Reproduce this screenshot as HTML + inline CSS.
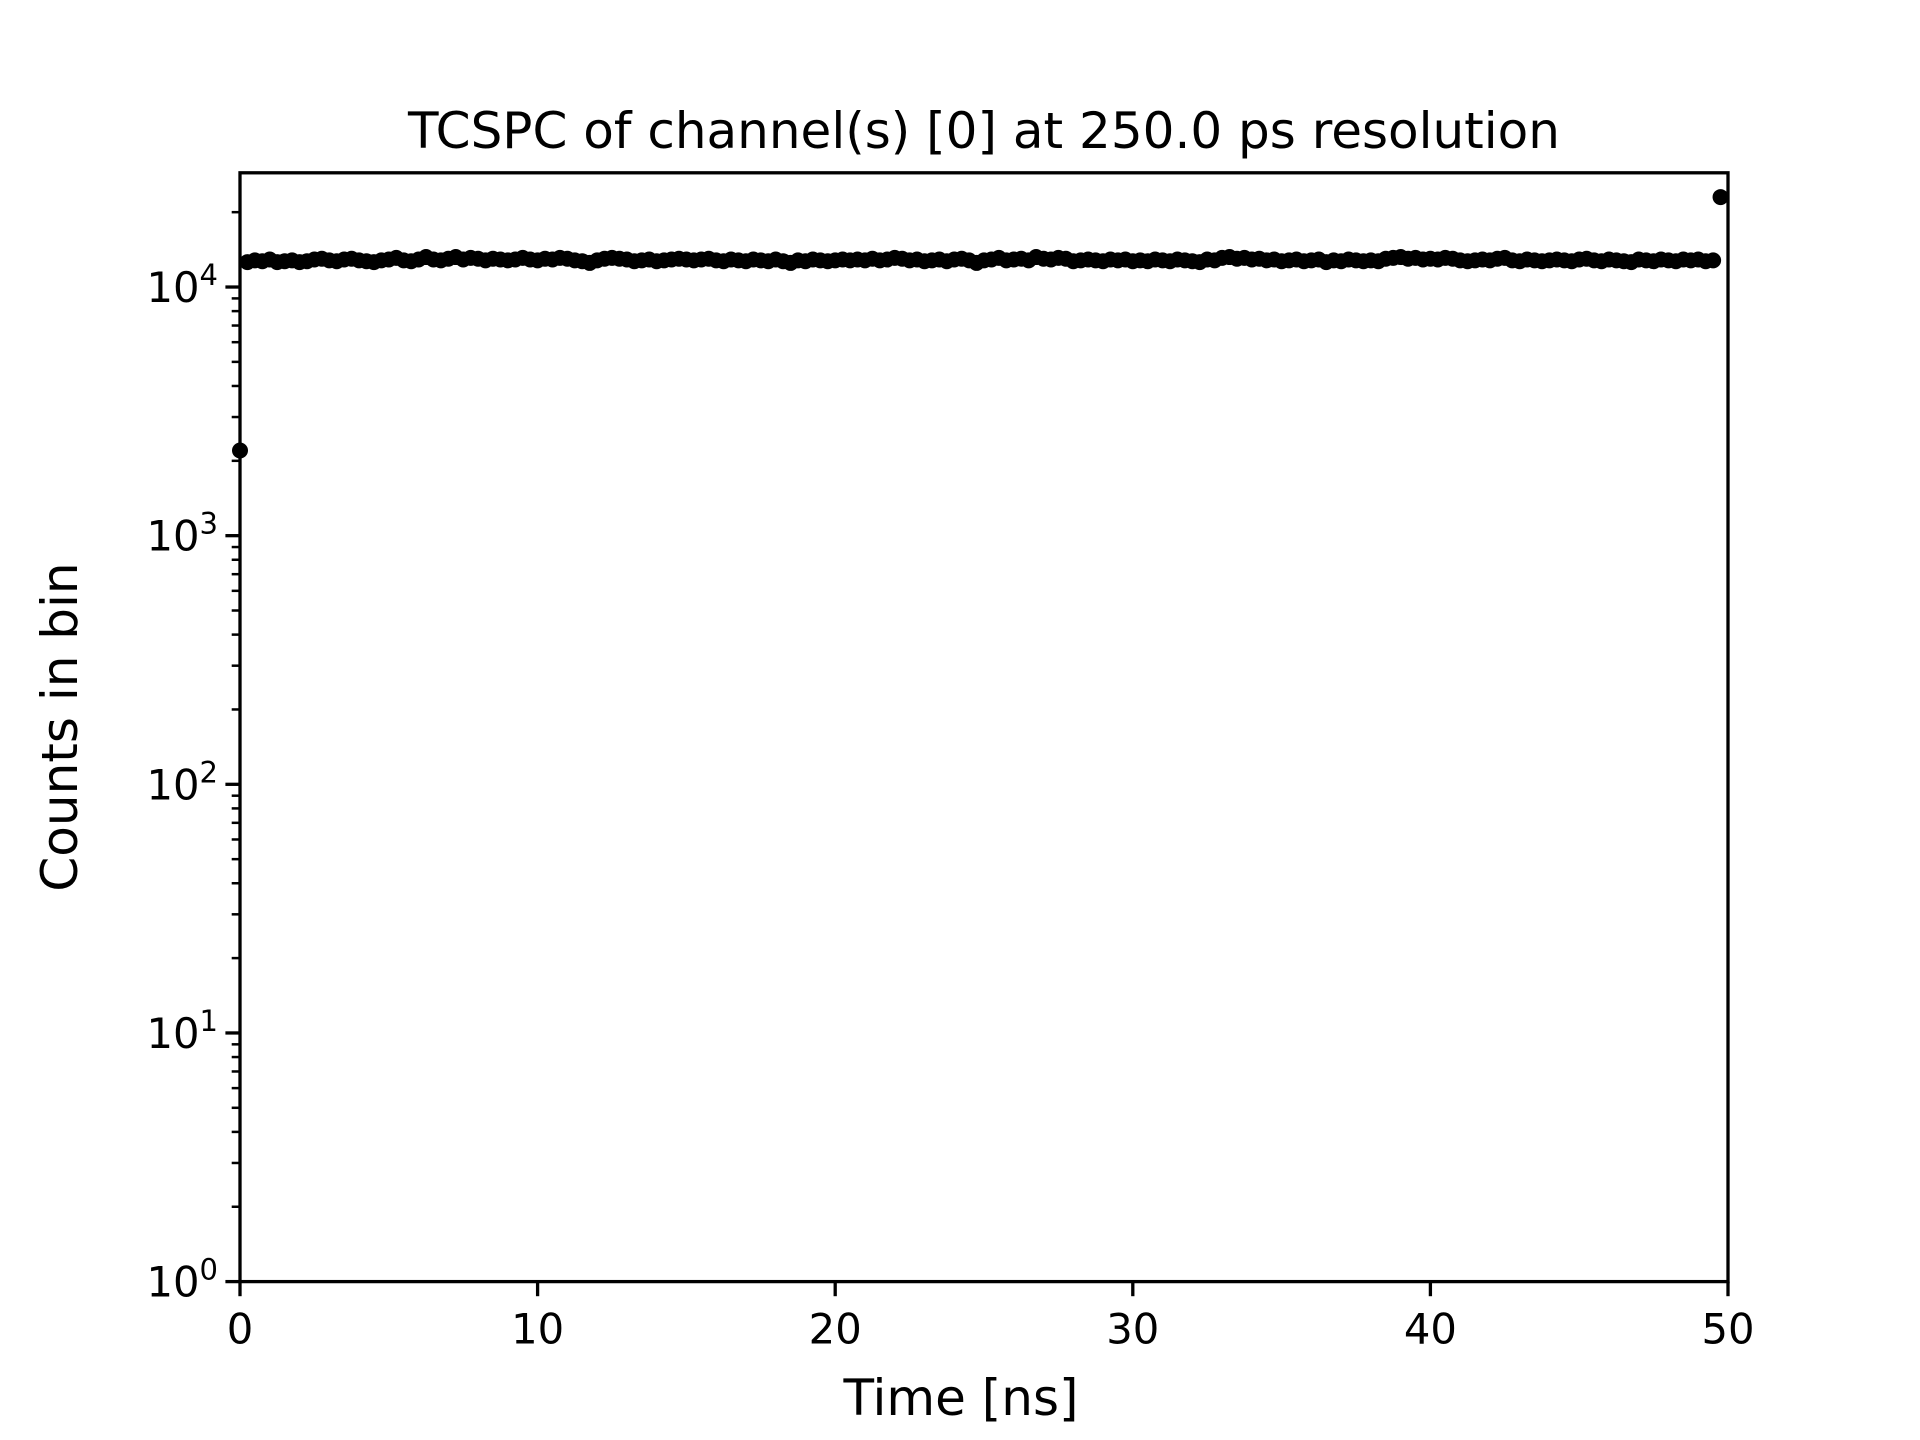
<!DOCTYPE html>
<html><head><meta charset="utf-8"><style>
body{margin:0;background:#fff}
svg{display:block;font-family:"DejaVu Sans","Liberation Sans",sans-serif}
</style></head><body>
<svg id="chart" width="1920" height="1440" viewBox="0 0 1920 1440">
<rect width="1920" height="1440" fill="#fff"/>
<g id="marks"></g>
<g id="axes"></g>
<text x="984" y="148" font-size="50" text-anchor="middle">TCSPC of channel(s) [0] at 250.0 ps resolution</text>
<text x="961" y="1415" font-size="50" text-anchor="middle">Time [ns]</text>
<text x="0" y="0" font-size="50" text-anchor="middle" transform="translate(77,727) rotate(-90)">Counts in bin</text>
</svg>
<script>
const xTicks=[0,10,20,30,40,50];
const yDecades=[0,1,2,3,4];
const firstValue=2200;
const lastValue=23000;
const midValues=[
12600,12800,12700,12900,12600,12700,12800,12600,12700,12900,13000,12800,12700,12900,13000,12800,12700,12600,12800,12900,
13100,12800,12700,12900,13200,12900,12800,13000,13200,12900,13100,13000,12800,13000,12900,12800,12900,13100,12900,12800,
13000,12900,13100,13000,12800,12700,12500,12800,13000,13100,13000,12900,12700,12800,12900,12700,12800,12900,13000,12900,
12800,12900,13000,12800,12700,12900,12800,12700,12900,12800,12700,12900,12700,12500,12800,12700,12900,12800,12700,12800,
12900,12800,12900,12800,13000,12800,12900,13100,13000,12800,12900,12700,12800,12900,12700,12900,13000,12800,12500,12800,
12900,13100,12800,12900,13000,12800,13200,13000,12900,13100,13000,12700,12800,12900,12800,12700,12900,12800,12900,12700,
12800,12700,12900,12800,12700,12900,12800,12700,12600,12900,12800,13100,13200,13000,13100,12900,13000,12800,12900,12700,
12800,12900,12700,12800,12900,12600,12800,12700,12900,12800,12700,12800,12700,13000,13100,13200,13000,13100,12900,13000,
12900,13100,13000,12800,12700,12800,12900,12800,13000,13100,12800,12700,12900,12800,12700,12800,12900,12800,12700,12900,
13000,12800,12700,12900,12800,12700,12600,12900,12800,12700,12900,12800,12700,12900,12800,12900,12700,12800];
const values=[firstValue].concat(midValues,[lastValue]);
const binWidth=0.25;

const L=240,R=1728,T=172.8,B=1281.6,yMax=28800;
const xs=v=>L+(v-0)/(50-0)*(R-L);
const ys=v=>B-(Math.log10(v)-0)/(Math.log10(yMax)-0)*(B-T);
const NS="http://www.w3.org/2000/svg";
function mk(tag,attrs,parent){const e=document.createElementNS(NS,tag);for(const k in attrs)e.setAttribute(k,attrs[k]);parent.appendChild(e);return e;}
const marks=document.getElementById('marks'),axes=document.getElementById('axes');
values.forEach((v,i)=>{
 const c=mk('circle',{cx:xs(i*binWidth),cy:ys(v),r:8,fill:'#000'},marks);
 
 
});
const fr=mk('rect',{x:L,y:T,width:R-L,height:B-T,fill:'none',stroke:'#000','stroke-width':3.3},axes);


xTicks.forEach(t=>{
 const x=xs(t);
 const l=mk('line',{x1:x,x2:x,y1:B,y2:B+14.6,stroke:'#000','stroke-width':3.3},axes);
 
 
 const tx=mk('text',{x:x,y:B+62,'font-size':41.7,'text-anchor':'middle'},axes);
 tx.textContent=t;
 
 
});
yDecades.forEach(d=>{
 const y=ys(Math.pow(10,d));
 const l=mk('line',{x1:L-14.6,x2:L,y1:y,y2:y,stroke:'#000','stroke-width':3.3},axes);
 
 
 const tx=mk('text',{x:L-22,y:y+15,'font-size':41.7,'text-anchor':'end'},axes);
 tx.innerHTML='10<tspan dy="-17" font-size="29">'+d+'</tspan>';
 
 
 for(let m=2;m<=9;m++){
  const v=m*Math.pow(10,d); if(v>yMax)break;
  const yy=ys(v);
  const ml=mk('line',{x1:L-8.3,x2:L,y1:yy,y2:yy,stroke:'#000','stroke-width':2.5},axes);
  
  
 }
});
</script>
</body></html>
